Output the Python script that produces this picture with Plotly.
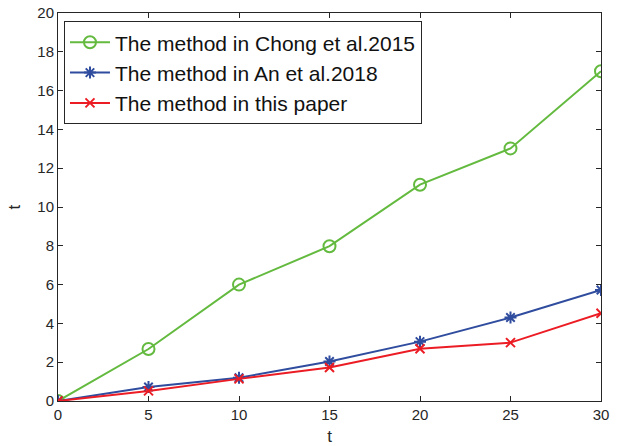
import plotly.graph_objects as go

# Values per method at each time step
t_values = [0, 5, 10, 15, 20, 25, 30]
chong_2015 = [0, 2.68, 6.0, 7.98, 11.15, 13.02, 17.0]
an_2018 = [0, 0.72, 1.2, 2.04, 3.06, 4.3, 5.72]
this_paper = [0, 0.52, 1.14, 1.73, 2.69, 3.01, 4.52]

series_names = [
    "The method in Chong et al.2015",
    "The method in An et al.2018",
    "The method in this paper",
]
x_ticks = [0, 5, 10, 15, 20, 25, 30]
y_ticks = [0, 2, 4, 6, 8, 10, 12, 14, 16, 18, 20]

axis_color = "#262626"

fig = go.Figure()
fig.add_trace(go.Scatter(
    x=t_values, y=chong_2015, name=series_names[0], mode="lines+markers",
    line=dict(color="#63BA3F", width=2),
    marker=dict(symbol="circle-open", size=12, color="#63BA3F", line=dict(width=2)),
))
fig.add_trace(go.Scatter(
    x=t_values, y=an_2018, name=series_names[1], mode="lines+markers",
    line=dict(color="#2F4C9E", width=2),
    marker=dict(symbol="asterisk-open", size=10, color="#2F4C9E", line=dict(width=2)),
))
fig.add_trace(go.Scatter(
    x=t_values, y=this_paper, name=series_names[2], mode="lines+markers",
    line=dict(color="#EC1C24", width=2),
    marker=dict(symbol="x-thin-open", size=9, color="#EC1C24", line=dict(width=2)),
))

common_axis = dict(
    showgrid=False, zeroline=False, showline=True, mirror="allticks",
    linecolor=axis_color, linewidth=1, ticks="inside", ticklen=5,
    tickcolor=axis_color, automargin=False,
    tickfont=dict(family="Liberation Sans", size=15, color=axis_color),
)

fig.update_layout(
    width=620, height=446,
    margin=dict(l=58, r=19, t=13, b=45),
    paper_bgcolor="white", plot_bgcolor="white",
    font=dict(family="Liberation Sans", color=axis_color),
    xaxis=dict(range=[0, 30], tickvals=x_ticks, title=dict(text="t", font=dict(size=17), standoff=8),
               **common_axis),
    yaxis=dict(range=[0, 20], tickvals=y_ticks, title=dict(text="t", font=dict(size=17), standoff=12),
               **common_axis),
    legend=dict(
        x=0.011, y=0.979, xanchor="left", yanchor="top",
        bgcolor="white", bordercolor=axis_color, borderwidth=1,
        font=dict(family="Liberation Sans", size=21, color="#111111"),
        tracegroupgap=0, itemwidth=40,
    ),
    showlegend=True,
)

fig.write_html("out.html")
